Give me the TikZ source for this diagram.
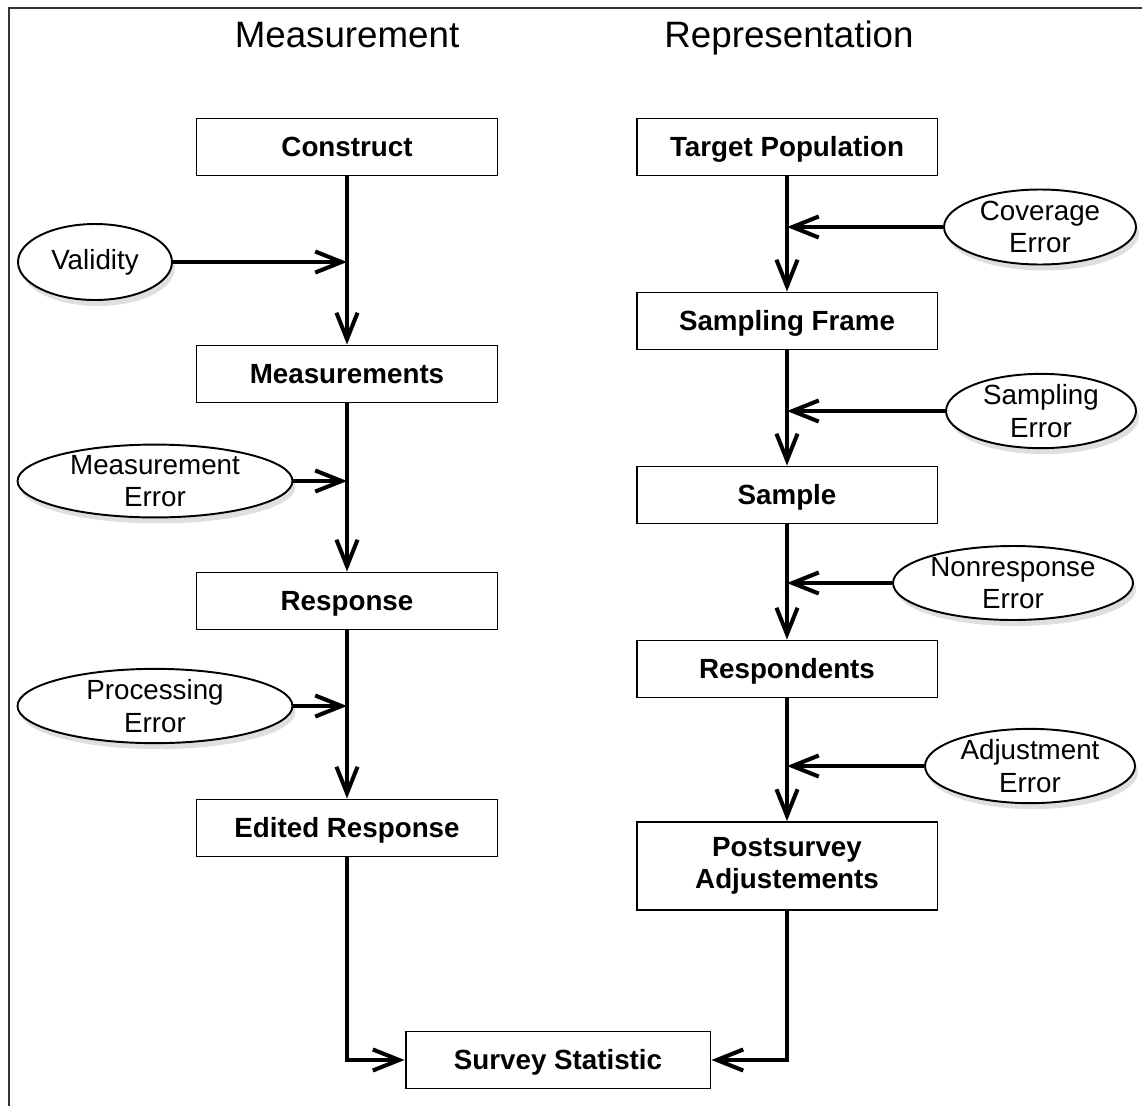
\documentclass[tikz,border=0pt]{standalone}
\usepackage{fontspec}
\setmainfont{Liberation Sans}
\usetikzlibrary{shapes.geometric,arrows.meta,shadows}
\begin{document}
\begin{tikzpicture}[x=0.02cm,y=-0.02cm,
  box/.style={draw=black,line width=1.1pt,fill=white,minimum width=6.02cm,minimum height=1.14cm,
    font=\fontsize{15.8pt}{18.5pt}\selectfont\bfseries,align=center,inner sep=0pt,
    text height=11.3pt,text depth=0pt},
  oval/.style={ellipse,draw=black,line width=1.1pt,fill=white,inner sep=0pt,align=center,
    font=\fontsize{15.8pt}{18.3pt}\selectfont,
    drop shadow={shadow xshift=0.6mm,shadow yshift=-1.2mm,opacity=0.25,fill=gray}},
  ttl/.style={font=\fontsize{20.9pt}{24pt}\selectfont,anchor=base,inner sep=0pt},
  conn/.style={line width=2.3pt},
  arr/.style={conn,-{Straight Barb[length=15pt,width=12pt]}}]
\useasboundingbox (0,0) rectangle (1142,1106);
\draw[line width=1.2pt,draw=black!80] (9,1106) -- (9,8) -- (1142,8);
% titles
\node[ttl] (tm) at (347,47) {Measurement};
\node[ttl] (tr) at (789,47) {Representation};
% measurement side
\node[box] (cons) at (347,147) {Construct};
\node[box] (meas) at (347,374) {Measurements};
\node[box] (resp) at (347,601) {Response};
\node[box] (edit) at (347,828) {Edited Response};
% representation side
\node[box] (tp) at (787,147) {Target Population};
\node[box] (sf) at (787,321) {Sampling Frame};
\node[box] (samp) at (787,495) {Sample};
\node[box] (rsp) at (787,669) {Respondents};
\node[box,minimum height=1.76cm,text height=,text depth=] (post) at (787,866) {Postsurvey\\Adjustements};
\node[box,minimum width=6.1cm] (ss) at (558,1060) {Survey Statistic};
% ellipses
\node[oval,minimum width=3.08cm,minimum height=1.52cm] (val) at (95,262) {Validity};
\node[oval,minimum width=5.5cm,minimum height=1.4cm] (me) at (155,481) {Measurement\\Error};
\node[oval,minimum width=5.5cm,minimum height=1.4cm] (pe) at (155,706) {Processing\\Error};
\node[oval,minimum width=3.84cm,minimum height=1.5cm] (ce) at (1040,227) {Coverage\\Error};
\node[oval,minimum width=3.8cm,minimum height=1.48cm] (se) at (1041,411) {Sampling\\Error};
\node[oval,minimum width=4.8cm,minimum height=1.48cm] (ne) at (1013,583) {Nonresponse\\Error};
\node[oval,minimum width=4.2cm,minimum height=1.42cm] (ae) at (1030,766) {Adjustment\\Error};
% vertical flows
\draw[arr] (cons.south) -- (meas.north);
\draw[arr] (meas.south) -- (resp.north);
\draw[arr] (resp.south) -- (edit.north);
\draw[arr] (tp.south) -- (sf.north);
\draw[arr] (sf.south) -- (samp.north);
\draw[arr] (samp.south) -- (rsp.north);
\draw[arr] (rsp.south) -- (post.north);
% error inputs
\draw[arr] (val.east) -- (val.east -| cons.south);
\draw[arr] (me.east) -- (me.east -| meas.south);
\draw[arr] (pe.east) -- (pe.east -| resp.south);
\draw[arr] (ce.west) -- (ce.west -| tp.south);
\draw[arr] (se.west) -- (se.west -| sf.south);
\draw[arr] (ne.west) -- (ne.west -| samp.south);
\draw[arr] (ae.west) -- (ae.west -| rsp.south);
% to survey statistic
\draw[arr] (edit.south) |- (ss.west);
\draw[arr] (post.south) |- (ss.east);
\end{tikzpicture}
\end{document}
